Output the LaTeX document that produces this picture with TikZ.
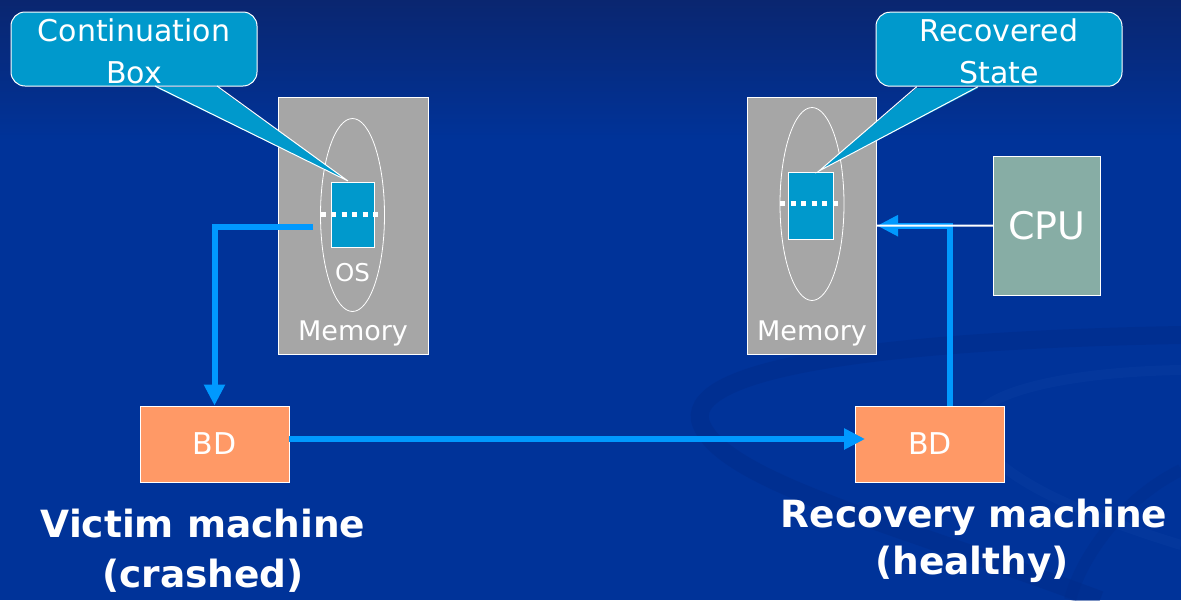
\documentclass[tikz,border=0pt]{standalone}
\usepackage{fontspec}
\setmainfont{DejaVu Sans}
\usetikzlibrary{arrows.meta,shapes.geometric}
\definecolor{bgblue}{RGB}{0,51,153}
\definecolor{bgtop}{RGB}{10,38,112}
\definecolor{callc}{RGB}{0,153,204}
\definecolor{memgray}{RGB}{166,166,166}
\definecolor{bdorange}{RGB}{255,153,102}
\definecolor{cpugreen}{RGB}{135,173,165}
\definecolor{flowblue}{RGB}{0,153,255}
\definecolor{swirldark}{RGB}{0,44,138}
\definecolor{swirllight}{RGB}{8,60,160}
\begin{document}
\begin{tikzpicture}[x=1pt,y=-1pt,
  callbox/.style={draw=white, line width=1pt, fill=callc, rounded corners=14pt, minimum width=246pt, minimum height=74pt, inner sep=0pt},
  calltext/.style={anchor=base, text=white, inner sep=0pt, font=\fontsize{30}{36}\selectfont},
  membox/.style={draw=white, line width=1pt, fill=memgray, minimum height=257pt, inner sep=0pt},
  memtext/.style={anchor=base, text=white, inner sep=0pt, font=\fontsize{27}{32}\selectfont},
  osring/.style={ellipse, draw=white, line width=0.8pt, minimum width=64pt, minimum height=193pt, inner sep=0pt},
  statebox/.style={draw=white, line width=1pt, fill=callc, inner sep=0pt},
  bdbox/.style={draw=white, line width=0.8pt, fill=bdorange, minimum width=149pt, minimum height=76pt, inner sep=0pt, text=white, font=\fontsize{30}{36}\selectfont},
  cpubox/.style={draw=white, line width=1pt, fill=cpugreen, minimum width=107pt, minimum height=139pt, inner sep=0pt, text=white, font=\fontsize{38}{44}\selectfont},
  flow/.style={draw=flowblue, line width=6pt, -{Triangle[length=21pt,width=20pt]}},
  dotline/.style={draw=white, line width=5pt, dash pattern=on 5pt off 5.5pt},
  bigtext/.style={anchor=base, text=white, inner sep=0pt, font=\fontsize{37.5}{44}\selectfont\bfseries}
]
\useasboundingbox (0,0) rectangle (1181,600);
% background
\fill[bgblue] (0,0) rectangle (1181,600);
\shade[top color=bgtop, bottom color=bgblue] (0,0) rectangle (1181,140);
\draw[swirldark, line width=18pt, opacity=0.5] (1181,335) .. controls (900,340) and (690,365) .. (700,420) .. controls (715,480) and (900,525) .. (1100,600);
\draw[swirllight, line width=10pt, opacity=0.5] (1181,370) .. controls (1060,372) and (965,395) .. (975,430) .. controls (990,480) and (1100,520) .. (1181,545);
\draw[swirldark, line width=12pt, opacity=0.4] (1181,470) .. controls (1120,500) and (1080,560) .. (1070,600);

% memory blocks
\node[membox, minimum width=150pt] (memL) at (353,225.5) {};
\node[osring] (osL) at (352.5,215) {};
\node[statebox, minimum width=43pt, minimum height=65pt] (cbL) at (352.5,214.5) {};
\draw[dotline] (320.5,214) -- (381,214);
\node[memtext, font=\fontsize{24.5}{30}\selectfont] (osLtxt) at (352.5,281.5) {OS};
\node[memtext] (memLtxt) at (353,340) {Memory};

\node[membox, minimum width=129pt] (memR) at (812,225.7) {};
\node[osring] (osR) at (812,204) {};
\node[statebox, minimum width=45pt, minimum height=67pt] (rsR) at (811.2,205.7) {};
\draw[dotline] (780,203) -- (841,203);
\node[memtext] (memRtxt) at (812,340) {Memory};

% CPU
\node[cpubox] (cpu) at (1047,225.5) {CPU};

% BD boxes
\node[bdbox] (bdL) at (214.5,444) {BD};
\node[bdbox] (bdR) at (930,444) {BD};

% callouts
\node[callbox] (callL) at (134,49) {};
\fill[callc] (155,87) -- (348,181) -- (217,87) -- cycle;
\draw[white, line width=1pt] (155,86) -- (348,181) -- (217,86);
\node[calltext] (callLa) at (134,41.7) {Continuation};
\node[calltext] (callLb) at (134,83.3) {Box};

\node[callbox] (callR) at (999,49.2) {};
\fill[callc] (916.7,88) -- (819,171) -- (978,88) -- cycle;
\draw[white, line width=1pt] (916.7,86.7) -- (819,171) -- (978,86.7);
\node[calltext] (callRa) at (999,41.7) {Recovered};
\node[calltext] (callRb) at (999,83.3) {State};

% connectors
\coordinate (outL) at (313,227);
\draw[flow] (outL) -| (bdL);
\draw[flow, shorten >=-10pt] ([yshift=5pt]bdL.east) -- ([yshift=5pt]bdR.west);
\draw[flow] ([xshift=20pt]bdR.north) |- (memR.east);
\draw[white, line width=2pt] (cpu.west) -- (memR.east);

% labels
\node[bigtext] (vic1) at (203,537) {Victim machine};
\node[bigtext] (vic2) at (203,587) {(crashed)};
\node[bigtext] (rec1) at (974,527) {Recovery machine};
\node[bigtext] (rec2) at (972,574) {(healthy)};
\end{tikzpicture}
\end{document}
